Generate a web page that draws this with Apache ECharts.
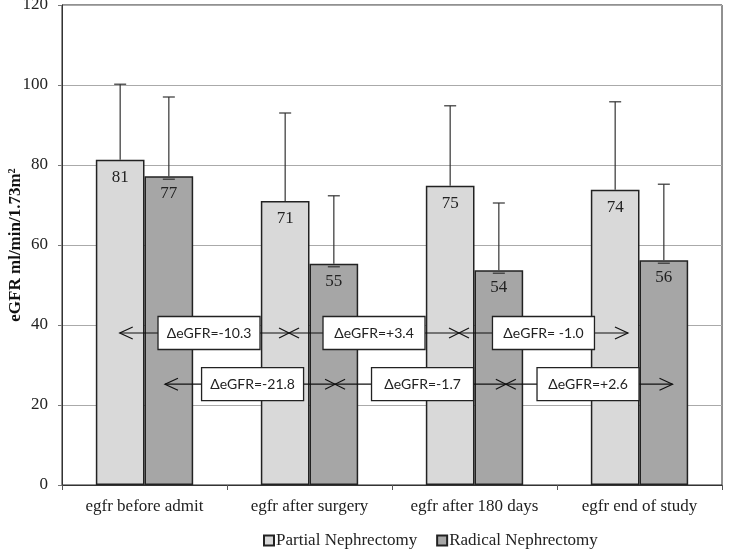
<!DOCTYPE html>
<html><head><meta charset="utf-8">
<script src="https://cdn.jsdelivr.net/npm/echarts@6/dist/echarts.min.js"></script>
<style>html,body{margin:0;padding:0;background:#fff}#c{width:733px;height:549px}</style>
</head><body><div id="c"></div>
<script>
// ---- data ----
const categories = ['egfr before admit', 'egfr after surgery', 'egfr after 180 days', 'egfr end of study'];
const seriesNames = ['Partial Nephrectomy', 'Radical Nephrectomy'];
const partialMean = [81.3, 71.0, 74.8, 73.8];
const radicalMean = [77.2, 55.3, 53.7, 56.2];
const partialUpper = [100.2, 93.0, 94.8, 95.8];
const radicalUpper = [97.0, 72.3, 70.5, 75.2];
const partialLabels = ['81', '71', '75', '74'];
const radicalLabels = ['77', '55', '54', '56'];
const yMin = 0, yMax = 120, yStep = 20;
// delta annotations (x in category units 0..4, y in eGFR units)
const row1Y = 38, row2Y = 25.2;
const row1Span = [0.35, 3.43], row1Cross = [1.376, 2.406];
const row2Span = [0.624, 3.70], row2Cross = [1.655, 2.69];
const row1Labels = ['ΔeGFR=-10.3', 'ΔeGFR=+3.4', 'ΔeGFR= -1.0'];
const row1LabelX = [0.891, 1.891, 2.918];
const row2Labels = ['ΔeGFR=-21.8', 'ΔeGFR=-1.7', 'ΔeGFR=+2.6'];
const row2LabelX = [1.155, 2.185, 3.188];

const serif = 'Liberation Serif';
const chart = echarts.init(document.getElementById('c'), null, {renderer: 'canvas'});

const BAR_FRAC = 0.59;
function errRender(side) {
  return function (params, api) {
    const i = api.value(0);
    const base = api.coord([i, api.value(1)]);
    const top = api.coord([i, api.value(2)]);
    const band = api.size([1, 0])[0];
    const x = base[0] + side * band * BAR_FRAC / 4;
    const st = {stroke: '#333', lineWidth: 1.2};
    const children = [
      {type: 'line', shape: {x1: x, y1: base[1], x2: x, y2: top[1]}, style: st},
      {type: 'line', shape: {x1: x - 6, y1: top[1], x2: x + 6, y2: top[1]}, style: st}
    ];
    if (side > 0) children.push({type: 'line', shape: {x1: x - 6, y1: base[1] + 3, x2: x + 6, y2: base[1] + 3}, style: st});
    return {type: 'group', children: children};
  };
}

function arrowRender(params, api) {
  const y = api.value(2);
  const p1 = api.coord([api.value(0), y]);
  const p2 = api.coord([api.value(1), y]);
  const c1 = api.coord([api.value(3), y]);
  const c2 = api.coord([api.value(4), y]);
  const st = {stroke: '#111', lineWidth: 1.2, fill: null};
  const ch = [
    {type: 'line', shape: {x1: p1[0], y1: p1[1], x2: p2[0], y2: p2[1]}, style: st},
    {type: 'polyline', shape: {points: [[p1[0] + 13, p1[1] - 6], [p1[0], p1[1]], [p1[0] + 13, p1[1] + 6]]}, style: st},
    {type: 'polyline', shape: {points: [[p2[0] - 13, p2[1] - 6], [p2[0], p2[1]], [p2[0] - 13, p2[1] + 6]]}, style: st}
  ];
  [c1, c2].forEach(function (c) {
    ch.push({type: 'line', shape: {x1: c[0] - 10, y1: c[1] - 5, x2: c[0] + 10, y2: c[1] + 5}, style: st});
    ch.push({type: 'line', shape: {x1: c[0] - 10, y1: c[1] + 5, x2: c[0] + 10, y2: c[1] - 5}, style: st});
  });
  return {type: 'group', children: ch};
}

const boxTexts = row1Labels.concat(row2Labels);
const boxData = row1LabelX.map(function (x) { return [x, row1Y]; })
  .concat(row2LabelX.map(function (x) { return [x, row2Y]; }));

function boxRender(params, api) {
  const p = api.coord([api.value(0), api.value(1)]);
  const txt = boxTexts[params.dataIndex];
  const w = 102, h = 33;
  return {type: 'group', children: [
    {type: 'rect', shape: {x: p[0] - w / 2, y: p[1] - h / 2, width: w, height: h},
     style: {fill: '#fff', stroke: '#222', lineWidth: 1.3}},
    {type: 'text', style: {text: txt, x: p[0], y: p[1], align: 'center', verticalAlign: 'middle',
      textAlign: 'center', textVerticalAlign: 'middle',
      font: '14px Lato', fill: '#222'}}
  ]};
}

const barLabel = function (labels) {
  return {show: true, position: 'insideTop', distance: 9, color: '#222',
    fontFamily: serif, fontSize: 17, formatter: function (p) { return labels[p.dataIndex]; }};
};

chart.setOption({
  animation: false,
  backgroundColor: '#fff',
  grid: {left: 62, right: 11, top: 5, bottom: 64, show: true, borderColor: '#222', borderWidth: 1,
         containLabel: false, outerBoundsMode: 'none'},
  legend: {
    top: 527, left: 258, itemWidth: 10, itemHeight: 10, itemGap: 19, icon: 'rect',
    data: seriesNames,
    textStyle: {fontFamily: serif, fontSize: 17, color: '#222', padding: [0, 0, 0, -3]}
  },
  xAxis: [{
    type: 'category', data: categories,
    axisLine: {lineStyle: {color: '#333'}},
    axisTick: {show: true, length: 5, interval: 0, lineStyle: {color: '#555'}},
    axisLabel: {fontFamily: serif, fontSize: 17, color: '#222', margin: 13, interval: 0}
  }, {
    type: 'value', min: 0, max: 4, show: false
  }],
  yAxis: {
    type: 'value', min: yMin, max: yMax, interval: yStep,
    name: 'eGFR ml/min/1.73m²', nameLocation: 'middle', nameGap: 38, nameRotate: 90,
    nameMoveOverlap: false,
    nameTextStyle: {fontFamily: serif, fontSize: 17, fontWeight: 'bold', color: '#111'},
    axisLine: {show: true, lineStyle: {color: '#333'}},
    axisTick: {show: true, length: 4, lineStyle: {color: '#777'}},
    axisLabel: {fontFamily: serif, fontSize: 17, color: '#222', margin: 14},
    splitLine: {lineStyle: {color: '#aaa', width: 1}}
  },
  series: [
    {name: seriesNames[0], type: 'bar', data: partialMean, barGap: '0%', barCategoryGap: '41%',
     itemStyle: {color: '#d9d9d9', borderColor: '#222', borderWidth: 1.5}, label: barLabel(partialLabels), z: 2},
    {name: seriesNames[1], type: 'bar', data: radicalMean,
     itemStyle: {color: '#a6a6a6', borderColor: '#222', borderWidth: 1.5}, label: barLabel(radicalLabels), z: 2},
    {type: 'custom', renderItem: errRender(-1), z: 3, silent: true,
     data: partialMean.map(function (v, i) { return [i, v, partialUpper[i]]; })},
    {type: 'custom', renderItem: errRender(1), z: 3, silent: true,
     data: radicalMean.map(function (v, i) { return [i, v, radicalUpper[i]]; })},
    {type: 'custom', xAxisIndex: 1, renderItem: arrowRender, z: 4, silent: true,
     data: [[row1Span[0], row1Span[1], row1Y, row1Cross[0], row1Cross[1]],
            [row2Span[0], row2Span[1], row2Y, row2Cross[0], row2Cross[1]]]},
    {type: 'custom', xAxisIndex: 1, renderItem: boxRender, z: 5, silent: true, data: boxData}
  ]
});
</script></body></html>
